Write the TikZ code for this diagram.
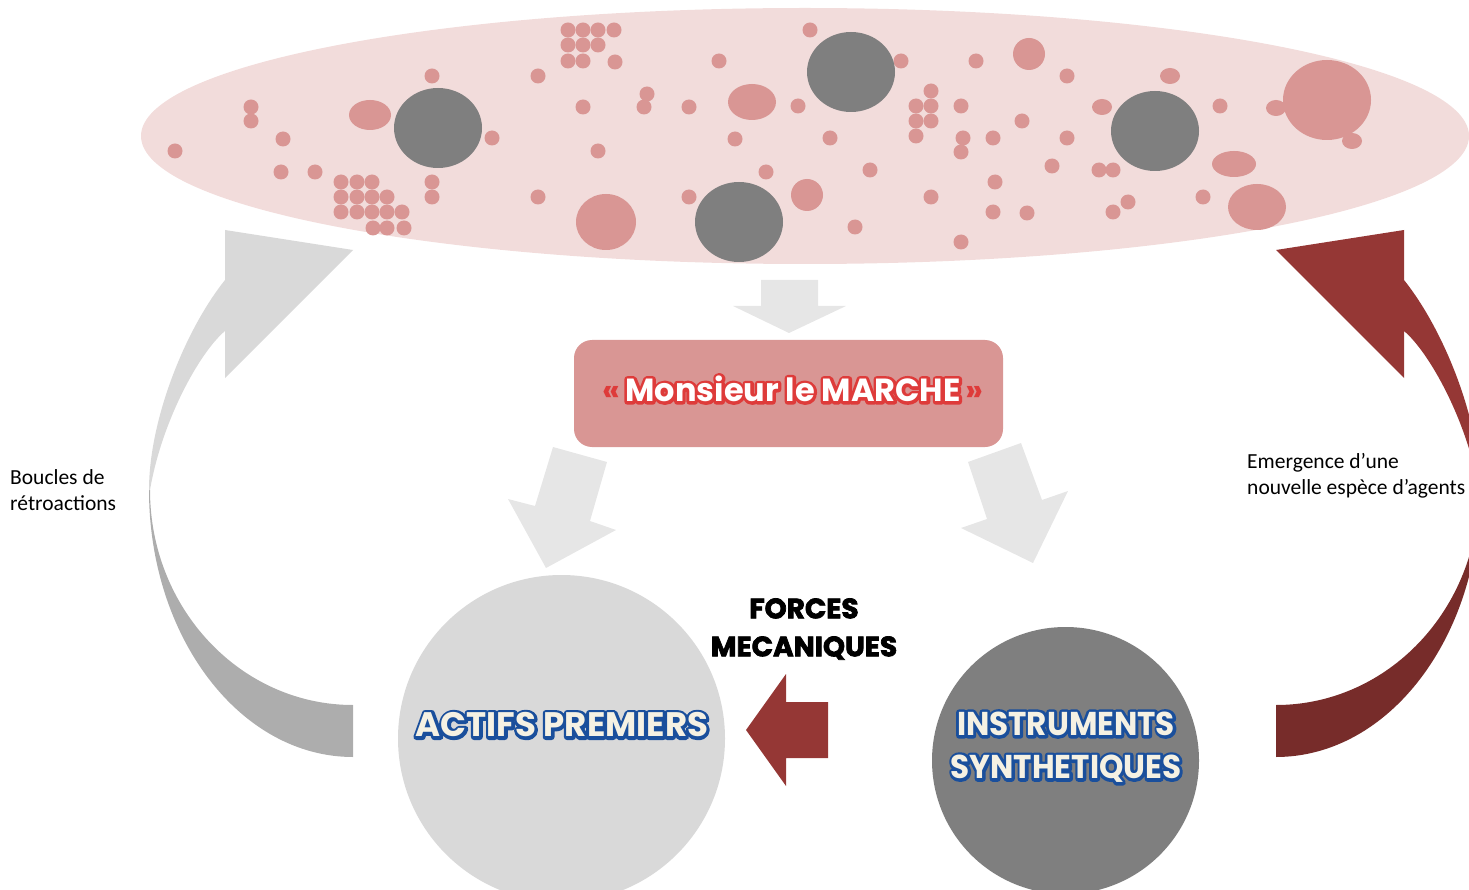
\documentclass[tikz,border=0pt]{standalone}
\usepackage{fontspec}
\setmainfont{Carlito}
\newfontfamily\fancy{Poppins}
\newfontfamily\heavy{Poppins}[FakeBold=2.6]
\definecolor{bgpink}{HTML}{F2DCDB}
\definecolor{dotpink}{HTML}{D99694}
\definecolor{dgray}{HTML}{7F7F7F}
\definecolor{lgray}{HTML}{D9D9D9}
\definecolor{mgray}{HTML}{ADADAD}
\definecolor{agray}{HTML}{E6E6E6}
\definecolor{brick}{HTML}{953735}
\definecolor{dbrick}{HTML}{772C2A}
\definecolor{mred}{HTML}{DE3B3A}
\definecolor{tblue}{HTML}{1A4F9C}
\definecolor{cream}{HTML}{F5F1E3}
% outlined text: stroked copy below (text render mode 2), plain copy on top
\newcommand{\outl}[3]{\rlap{\fancy\bfseries\color{#1}\special{pdf:code 2 Tr 6 w 1 j}#3\special{pdf:code 0 Tr 1 w 0 j}}{\fancy\bfseries\color{#2}#3}}
\tikzset{
  dot/.style={fill=dotpink},
  blob/.style={fill=dgray},
  blockarrow/.style={fill=agray},
  plain/.style={font=\fontsize{21.5}{26}\selectfont, align=left, anchor=west, inner sep=0pt},
}
\begin{document}
\begin{tikzpicture}[x=1pt,y=-1pt]
\useasboundingbox (0,0) rectangle (1469,890);
\clip (0,0) rectangle (1469,890);

% left curved arrow (grey)
\fill[mgray] (149,490) .. controls (149,637) and (240,757) .. (353,757) -- (353,705)
  .. controls (241,705) and (150,609) .. (150,490) -- cycle;
\fill[lgray] (149,490) .. controls (149,420) and (185,330) .. (225,280) -- (225,230) -- (353,250) -- (225,378) -- (225,331)
  .. controls (200,352) and (162,420) .. (150,490) -- cycle;

% right curved arrow (brick)
\begin{scope}[shift={(1629,0)},xscale=-1]
\fill[dbrick] (149,490) .. controls (149,637) and (240,757) .. (353,757) -- (353,705)
  .. controls (241,705) and (150,609) .. (150,490) -- cycle;
\fill[brick] (149,490) .. controls (149,420) and (185,330) .. (225,280) -- (225,230) -- (353,250) -- (225,378) -- (225,331)
  .. controls (200,352) and (162,420) .. (150,490) -- cycle;
\end{scope}

% market ellipse
\fill[bgpink] (805,136) ellipse [x radius=664, y radius=128];
\foreach \px/\py in {175/151,251/107,251/121,283/139,281/172,315/172,
  341/182,357/182,372/182,341/197,357/197,372/197,387/197,341/212,357/212,372/212,387/212,402/212,373/228,387/228,404/228,
  432/76,432/182,432/197,492/138,
  568/30,583/30,598/30,614/30,568/45,583/45,598/45,568/61,583/61,615/62,
  538/76,583/107,647/94,644/107,689/107,719/61,598/151,735/139,766/172,538/197,689/197,
  810/30,798/106,901/61,830/138,870/170,855/227,
  931/91,916/106,931/106,916/121,931/121,916/136,
  961/106,963/138,961/152,993/138,976/61,1067/76,1022/121,1067/138,1052/166,995/182,931/197,993/212,1027/213,961/242,
  1099/170,1113/170,1128/202,1113/212,1220/106,1203/197}
  \fill[dot] (\px,\py) circle (7.5);
\foreach \px/\py/\rx/\ry in {370/115/21/15,752/102/24/18,606/222/30/28,807/195/16/16,1029/54/16/16,
  1102/107/10/8,1170/76/10/8,1276/108/10/8,1327/100/44/40,1352/141/10/8,1234/164/22/13,1257/207/29/23}
  \fill[dot] (\px,\py) ellipse [x radius=\rx, y radius=\ry];
\foreach \px/\py in {438/128,739/222,851/72,1155/131}
  \fill[blob] (\px,\py) ellipse [x radius=44, y radius=40];

% block arrows around the market box
\fill[blockarrow] (761,280) -- (818,280) -- (818,306) -- (846,306) -- (789,333) -- (733,306) -- (761,306) -- cycle;
\fill[blockarrow] (553,447) -- (607,462) -- (590,521) -- (616,530) -- (546,568) -- (508,499) -- (535,506) -- cycle;
\fill[blockarrow] (968,462) -- (1021,443) -- (1042,500) -- (1068,491) -- (1033,563) -- (961,528) -- (987,519) -- cycle;

% market box
\node[fill=dotpink, rounded corners=18pt, minimum width=429pt, minimum height=107pt, inner sep=0pt] (marche) at (788.5,393.5) {};
\node[inner sep=0pt, font=\fontsize{32}{32}\selectfont] (marchetxt) at (793,389) {{\fancy\bfseries\textcolor{mred}{«}}\,\outl{mred}{white}{Monsieur le MARCHE}\,{\fancy\bfseries\textcolor{mred}{»}}};

% circles
\node[circle, fill=lgray, minimum size=327pt, inner sep=0pt] (actifs) at (561.5,738.5) {};
\node[circle, fill=dgray, minimum size=267pt, inner sep=0pt] (instr) at (1065.5,760.5) {};
\node[inner sep=0pt, font=\fontsize{34}{34}\selectfont] (actifstxt) at (562,725) {\outl{tblue}{cream}{ACTIFS PREMIERS}};
\node[inner sep=0pt, font=\fontsize{33}{33}\selectfont] (instrtxt1) at (1066,724) {\scalebox{0.94}[1]{\outl{tblue}{cream}{INSTRUMENTS}}};
\node[inner sep=0pt, font=\fontsize{33}{33}\selectfont] (instrtxt2) at (1066,769) {\scalebox{0.94}[1]{\outl{tblue}{cream}{SYNTHETIQUES}}};

% forces mecaniques
\node[inner sep=0pt, align=center, font=\heavy\bfseries\fontsize{28}{38}\selectfont] (forces) at (804,629) {FORCES\\MECANIQUES};
\fill[brick] (828,702) -- (786,702) -- (786,674) -- (746,730) -- (786,786) -- (786,758) -- (828,758) -- cycle;

% side labels
\node[plain] (boucles) at (10,490) {Boucles de\\rétroactions};
\node[plain] (emerg) at (1247,476) {Emergence d’une\\nouvelle espèce d’agents};
\end{tikzpicture}
\end{document}
